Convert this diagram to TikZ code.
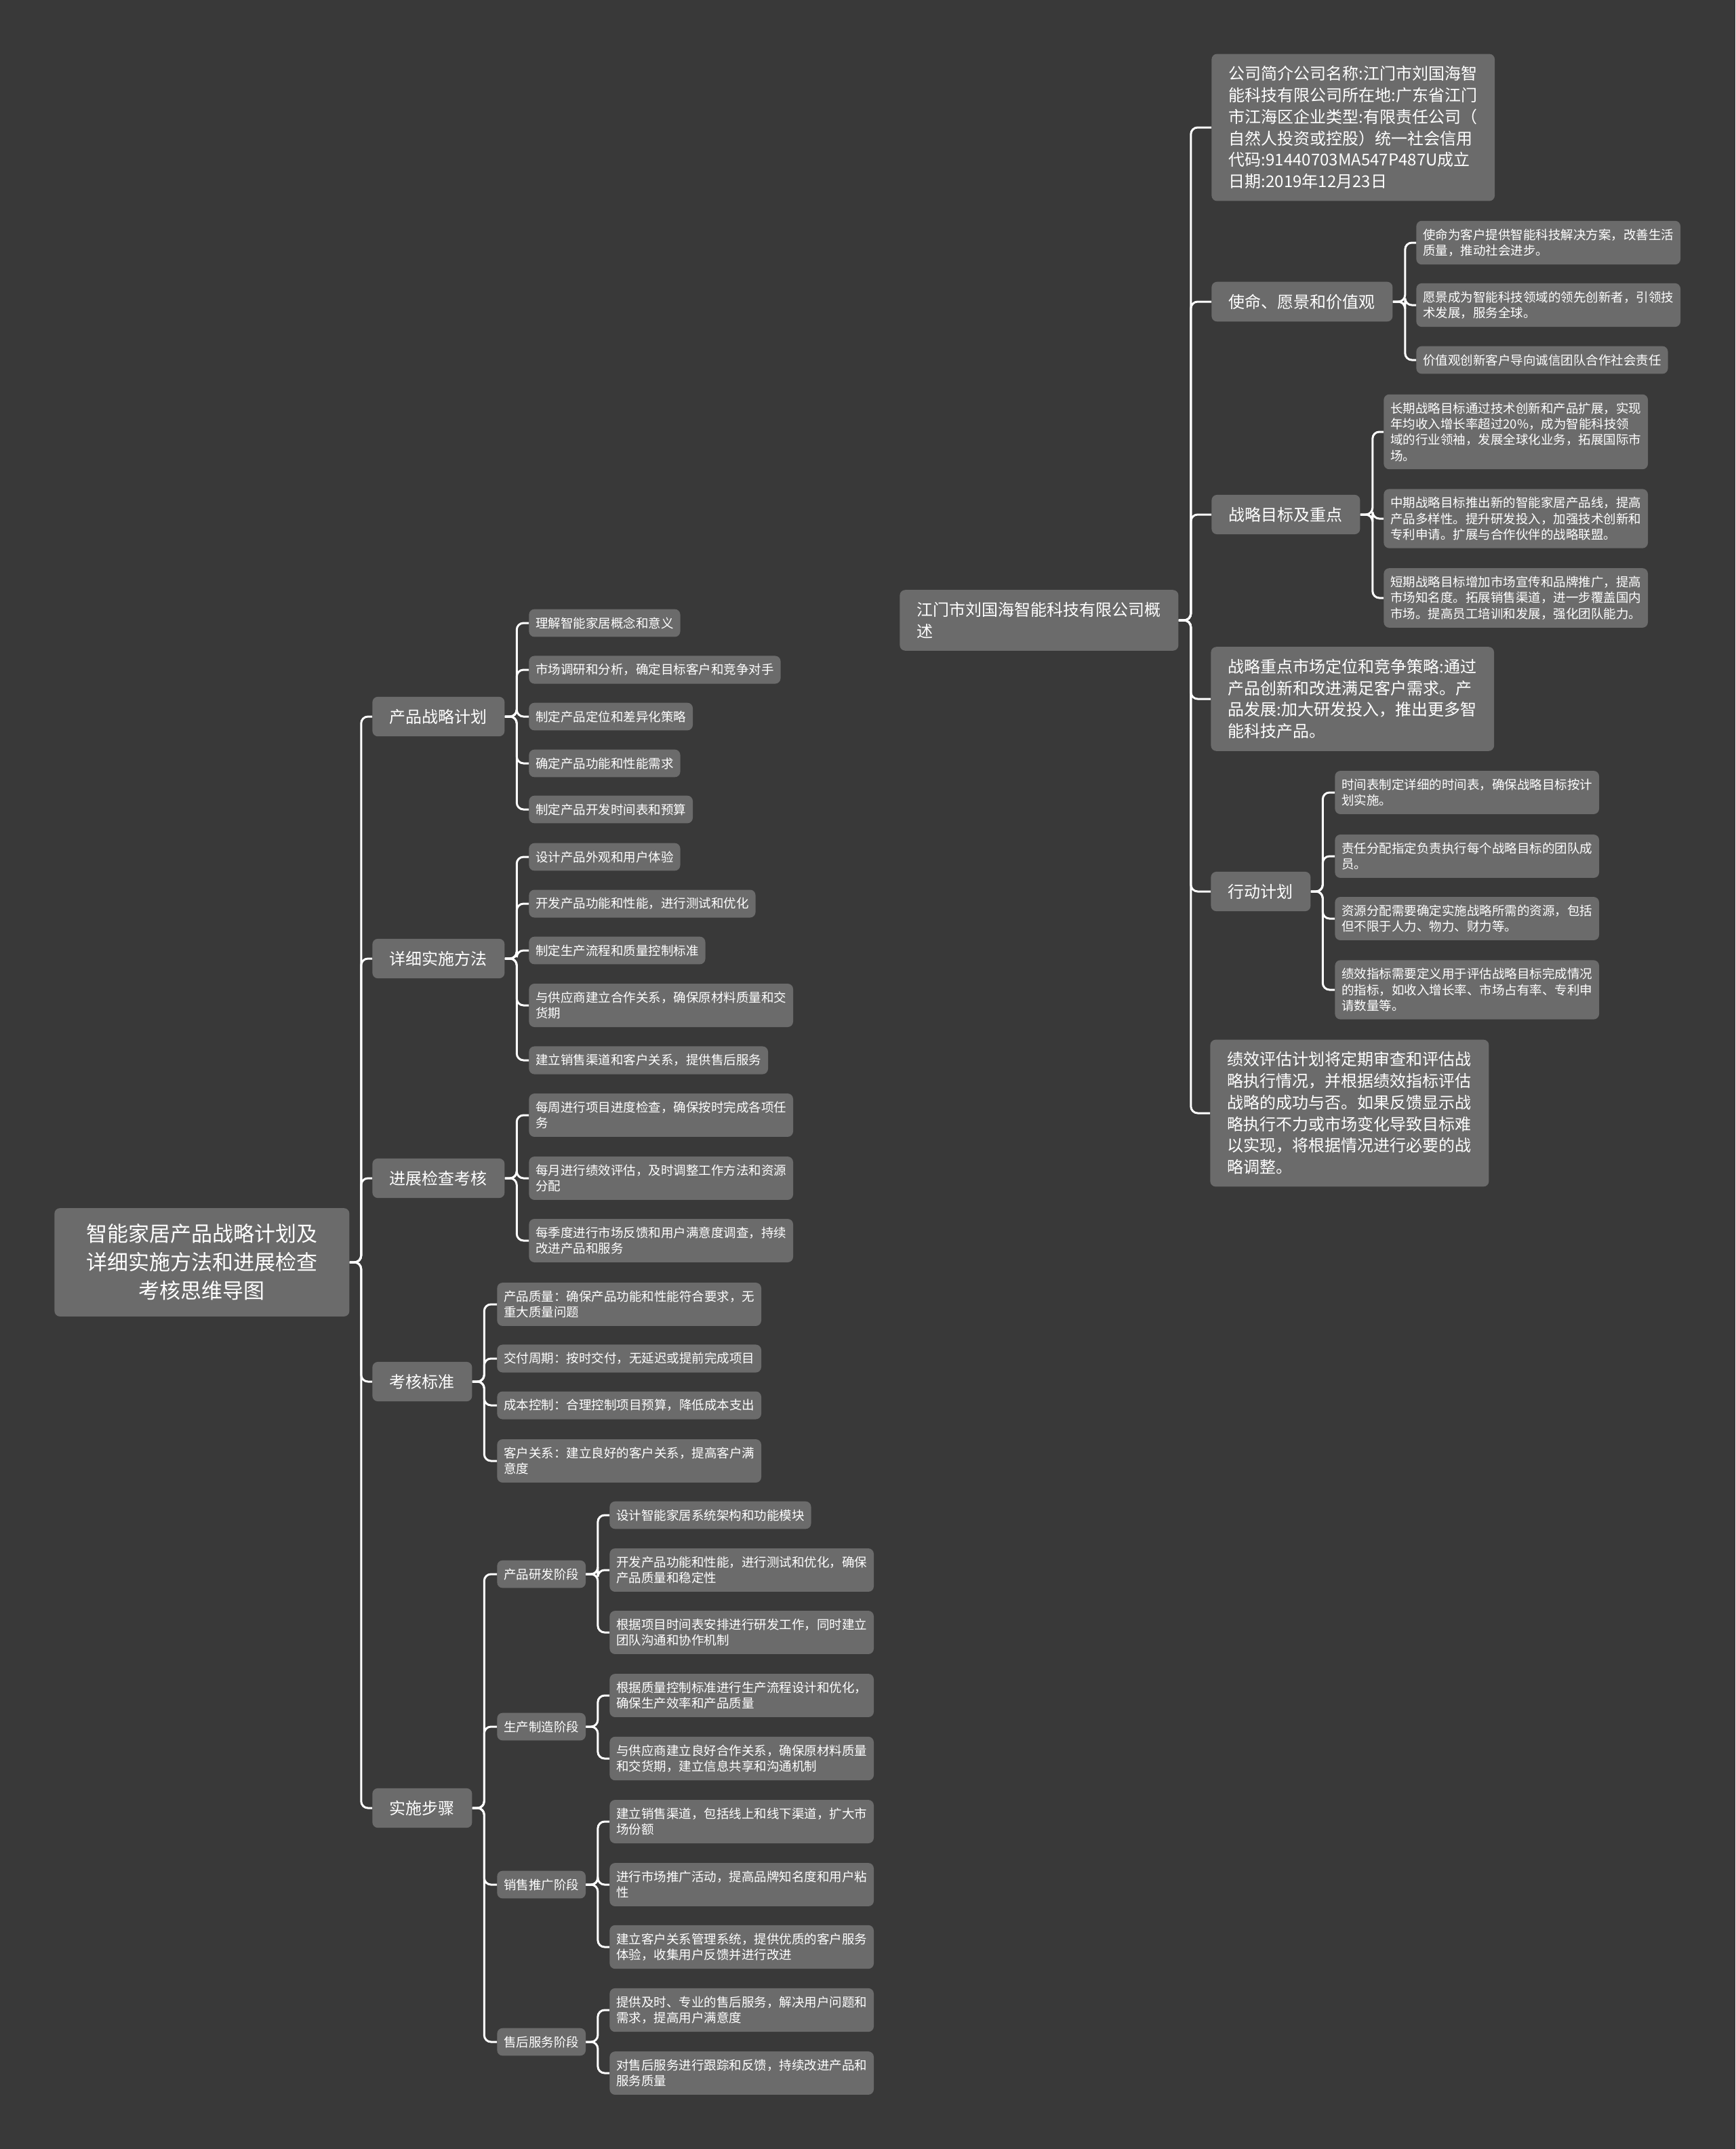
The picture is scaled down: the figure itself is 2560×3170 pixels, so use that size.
\documentclass[tikz,border=0pt]{standalone}
\usepackage{fontspec}
\setmainfont{Noto Sans CJK SC}
\usepackage{xcolor}
\definecolor{canvasbg}{RGB}{57,57,57}
\definecolor{boxgray}{RGB}{107,107,107}
\newcommand{\rootfont}{\fontsize{15.5pt}{21pt}\selectfont}
\newcommand{\topicfont}{\fontsize{12pt}{15.85pt}\selectfont}
\newcommand{\leaffont}{\fontsize{9.25pt}{11.65pt}\selectfont}

\begin{document}
\begin{tikzpicture}[
      x=0.5pt, y=-0.5pt,
      root/.style={
        rectangle, fill=boxgray, text=white, rounded corners=4pt,
        align=center, font=\rootfont, inner xsep=23.5pt, inner ysep=11.75pt,
        anchor=west
      },
      topic/.style={
        rectangle, fill=boxgray, text=white, rounded corners=4pt,
        align=left, font=\topicfont, inner xsep=12.75pt, inner ysep=9pt,
        anchor=west
      },
      leaf/.style={
        rectangle, fill=boxgray, text=white, rounded corners=4pt,
        align=left, font=\leaffont, inner xsep=4.9pt, inner ysep=5.85pt,
        anchor=west
      },
      link/.style={draw=white, line width=1.5pt, rounded corners=5pt}
    ]
      \useasboundingbox[fill=canvasbg] (0,0) rectangle (2560,3170);

      % --- Central topic on the left ---
      \node[root] (root) at (80,1862)
        {智能家居产品战略计划及\\详细实施方法和进展检查\\考核思维导图};

      % --- Left branches ---
      \node[topic] (plan)  at (549,1057) {产品战略计划};
      \node[topic] (meth)  at (549,1414) {详细实施方法};
      \node[topic] (check) at (549,1738) {进展检查考核};
      \node[topic] (crit)  at (549,2038) {考核标准};
      \node[topic] (step)  at (549,2667) {实施步骤};
      \foreach \b in {plan,meth,check,crit,step}
        \draw[link] (root.east) -- ++(17,0) |- (\b.west);

      % --- Product strategy plan ---
      \node[leaf] (plan1) at (780,919)  {理解智能家居概念和意义};
      \node[leaf] (plan2) at (780,988)  {市场调研和分析，确定目标客户和竞争对手};
      \node[leaf] (plan3) at (780,1057) {制定产品定位和差异化策略};
      \node[leaf] (plan4) at (780,1126) {确定产品功能和性能需求};
      \node[leaf] (plan5) at (780,1194) {制定产品开发时间表和预算};
      \foreach \c in {plan1,plan2,plan3,plan4,plan5}
        \draw[link] (plan.east) -- ++(17.5,0) |- (\c.west);

      % --- Detailed methods ---
      \node[leaf] (meth1) at (780,1264) {设计产品外观和用户体验};
      \node[leaf] (meth2) at (780,1333) {开发产品功能和性能，进行测试和优化};
      \node[leaf] (meth3) at (780,1402) {制定生产流程和质量控制标准};
      \node[leaf] (meth4) at (780,1483) {与供应商建立合作关系，确保原材料质量和交\\货期};
      \node[leaf] (meth5) at (780,1564) {建立销售渠道和客户关系，提供售后服务};
      \foreach \c in {meth1,meth2,meth3,meth4,meth5}
        \draw[link] (meth.east) -- ++(17.5,0) |- (\c.west);

      % --- Progress checks ---
      \node[leaf] (check1) at (780,1645) {每周进行项目进度检查，确保按时完成各项任\\务};
      \node[leaf] (check2) at (780,1738) {每月进行绩效评估，及时调整工作方法和资源\\分配};
      \node[leaf] (check3) at (780,1830) {每季度进行市场反馈和用户满意度调查，持续\\改进产品和服务};
      \foreach \c in {check1,check2,check3}
        \draw[link] (check.east) -- ++(17.5,0) |- (\c.west);

      % --- Criteria ---
      \node[leaf] (crit1) at (733,1924) {产品质量：确保产品功能和性能符合要求，无\\重大质量问题};
      \node[leaf] (crit2) at (733,2004) {交付周期：按时交付，无延迟或提前完成项目};
      \node[leaf] (crit3) at (733,2073) {成本控制：合理控制项目预算，降低成本支出};
      \node[leaf] (crit4) at (733,2155) {客户关系：建立良好的客户关系，提高客户满\\意度};
      \foreach \c in {crit1,crit2,crit3,crit4}
        \draw[link] (crit.east) -- ++(17.5,0) |- (\c.west);

      % --- Implementation steps: four phases ---
      \node[leaf] (dev)  at (733,2322) {产品研发阶段};
      \node[leaf] (prod) at (733,2547) {生产制造阶段};
      \node[leaf] (sale) at (733,2780) {销售推广阶段};
      \node[leaf] (care) at (733,3012) {售后服务阶段};
      \foreach \c in {dev,prod,sale,care}
        \draw[link] (step.east) -- ++(17.5,0) |- (\c.west);

      \node[leaf] (dev1) at (899,2235) {设计智能家居系统架构和功能模块};
      \node[leaf] (dev2) at (899,2316) {开发产品功能和性能，进行测试和优化，确保\\产品质量和稳定性};
      \node[leaf] (dev3) at (899,2408) {根据项目时间表安排进行研发工作，同时建立\\团队沟通和协作机制};
      \foreach \c in {dev1,dev2,dev3}
        \draw[link] (dev.east) -- ++(17.5,0) |- (\c.west);

      \node[leaf] (prod1) at (899,2501) {根据质量控制标准进行生产流程设计和优化，\\确保生产效率和产品质量};
      \node[leaf] (prod2) at (899,2594) {与供应商建立良好合作关系，确保原材料质量\\和交货期，建立信息共享和沟通机制};
      \foreach \c in {prod1,prod2}
        \draw[link] (prod.east) -- ++(17.5,0) |- (\c.west);

      \node[leaf] (sale1) at (899,2687) {建立销售渠道，包括线上和线下渠道，扩大市\\场份额};
      \node[leaf] (sale2) at (899,2780) {进行市场推广活动，提高品牌知名度和用户粘\\性};
      \node[leaf] (sale3) at (899,2872) {建立客户关系管理系统，提供优质的客户服务\\体验，收集用户反馈并进行改进};
      \foreach \c in {sale1,sale2,sale3}
        \draw[link] (sale.east) -- ++(17.5,0) |- (\c.west);

      \node[leaf] (care1) at (899,2965) {提供及时、专业的售后服务，解决用户问题和\\需求，提高用户满意度};
      \node[leaf] (care2) at (899,3058) {对售后服务进行跟踪和反馈，持续改进产品和\\服务质量};
      \foreach \c in {care1,care2}
        \draw[link] (care.east) -- ++(17.5,0) |- (\c.west);

      % --- Company overview on the right ---
      \node[topic] (intro) at (1327,915) {江门市刘国海智能科技有限公司概\\述};

      \node[topic] (info) at (1787,188)
        {公司简介公司名称:江门市刘国海智\\能科技有限公司所在地:广东省江门\\市江海区企业类型:有限责任公司（\\自然人投资或控股）统一社会信用\\代码:91440703MA547P487U成立\\日期:2019年12月23日};
      \node[topic] (vision) at (1787,445) {使命、愿景和价值观};
      \node[topic] (goal)   at (1787,759) {战略目标及重点};
      \node[topic] (focus)  at (1786,1031)
        {战略重点市场定位和竞争策略:通过\\产品创新和改进满足客户需求。产\\品发展:加大研发投入，推出更多智\\能科技产品。};
      \node[topic] (act)    at (1786,1315) {行动计划};
      \node[topic] (eval)   at (1785,1642)
        {绩效评估计划将定期审查和评估战\\略执行情况，并根据绩效指标评估\\战略的成功与否。如果反馈显示战\\略执行不力或市场变化导致目标难\\以实现，将根据情况进行必要的战\\略调整。};
      \foreach \b in {info,vision,goal,focus,act,eval}
        \draw[link] (intro.east) -- ++(18,0) |- (\b.west);

      \node[leaf] (vision1) at (2089,358) {使命为客户提供智能科技解决方案，改善生活\\质量，推动社会进步。};
      \node[leaf] (vision2) at (2089,450) {愿景成为智能科技领域的领先创新者，引领技\\术发展，服务全球。};
      \node[leaf] (vision3) at (2089,531) {价值观创新客户导向诚信团队合作社会责任};
      \foreach \c in {vision1,vision2,vision3}
        \draw[link] (vision.east) -- ++(18,0) |- (\c.west);

      \node[leaf] (goal1) at (2041,637) {长期战略目标通过技术创新和产品扩展，实现\\年均收入增长率超过20\%，成为智能科技领\\域的行业领袖，发展全球化业务，拓展国际市\\场。};
      \node[leaf] (goal2) at (2041,765) {中期战略目标推出新的智能家居产品线，提高\\产品多样性。提升研发投入，加强技术创新和\\专利申请。扩展与合作伙伴的战略联盟。};
      \node[leaf] (goal3) at (2041,882) {短期战略目标增加市场宣传和品牌推广，提高\\市场知名度。拓展销售渠道，进一步覆盖国内\\市场。提高员工培训和发展，强化团队能力。};
      \foreach \c in {goal1,goal2,goal3}
        \draw[link] (goal.east) -- ++(18,0) |- (\c.west);

      \node[leaf] (act1) at (1969,1169) {时间表制定详细的时间表，确保战略目标按计\\划实施。};
      \node[leaf] (act2) at (1969,1263) {责任分配指定负责执行每个战略目标的团队成\\员。};
      \node[leaf] (act3) at (1969,1355) {资源分配需要确定实施战略所需的资源，包括\\但不限于人力、物力、财力等。};
      \node[leaf] (act4) at (1969,1460) {绩效指标需要定义用于评估战略目标完成情况\\的指标，如收入增长率、市场占有率、专利申\\请数量等。};
      \foreach \c in {act1,act2,act3,act4}
        \draw[link] (act.east) -- ++(17.5,0) |- (\c.west);
    \end{tikzpicture}
\end{document}
